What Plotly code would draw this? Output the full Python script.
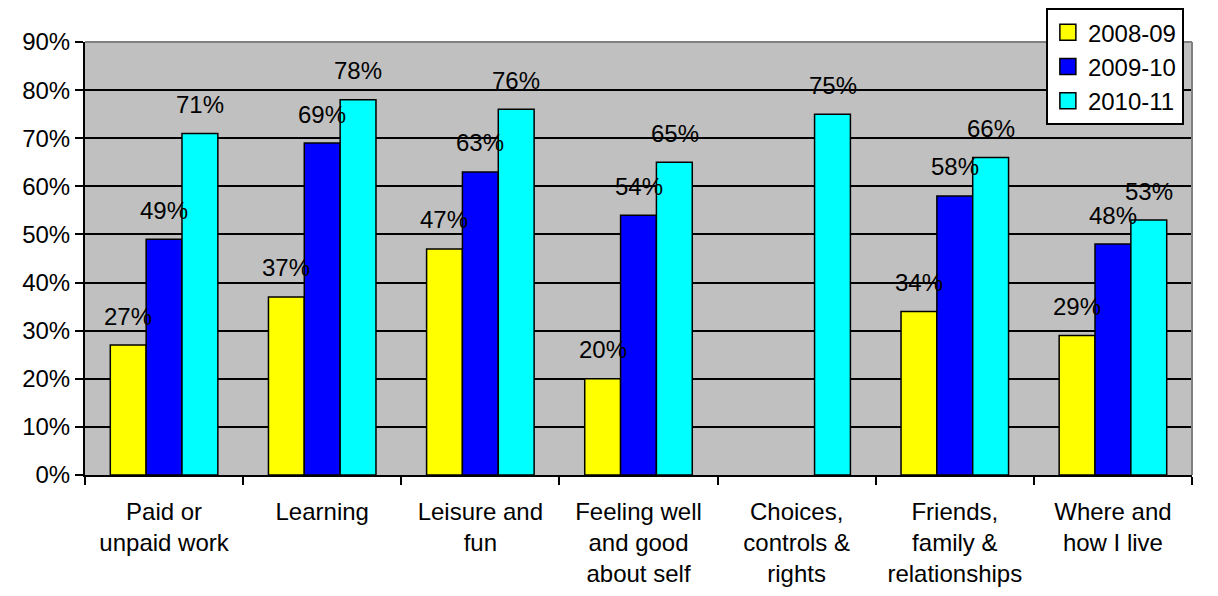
import plotly.graph_objects as go

categories = [
    "Paid or<br>unpaid work",
    "Learning",
    "Leisure and<br>fun",
    "Feeling well<br>and good<br>about self",
    "Choices,<br>controls &<br>rights",
    "Friends,<br>family &<br>relationships",
    "Where and<br>how I live",
]
years = ["2008-09", "2009-10", "2010-11"]
vals_0809 = [27, 37, 47, 20, None, 34, 29]
vals_0910 = [49, 69, 63, 54, None, 58, 48]
vals_1011 = [71, 78, 76, 65, 75, 66, 53]
colors = ["#FFFF00", "#0000FF", "#00FFFF"]

series = [vals_0809, vals_0910, vals_1011]
font = dict(family="Liberation Sans, Arial, sans-serif", size=24, color="black")

fig = go.Figure()
for name, vals, col in zip(years, series, colors):
    fig.add_trace(go.Bar(
        x=categories, y=vals, name=name, showlegend=False,
        marker=dict(color=col, line=dict(color="black", width=1.5)),
    ))
# legend entries with bigger square swatches
for name, col in zip(years, colors):
    fig.add_trace(go.Scatter(
        x=[None], y=[None], mode="markers", name=name,
        marker=dict(symbol="square", size=18, color=col,
                    line=dict(color="black", width=1.5)),
    ))

# value labels sitting above each bar
shifts = [-36, 0, 36]
for vals, dx in zip(series, shifts):
    for cat, v in zip(categories, vals):
        if v is None:
            continue
        fig.add_annotation(
            x=cat, y=v, text=f"{v}%", showarrow=False,
            xshift=dx, yshift=29, yanchor="middle", font=font,
        )

# gray top / right frame of plot area
fig.add_shape(type="line", xref="paper", yref="paper", x0=0, x1=1, y0=1, y1=1,
              line=dict(color="#808080", width=2))
fig.add_shape(type="line", xref="paper", yref="paper", x0=1, x1=1, y0=0, y1=1,
              line=dict(color="#808080", width=2))

# page body adds an 8px offset, so margins are trimmed by that amount
fig.update_layout(
    width=1218, height=596,
    margin=dict(l=77, r=34, t=34, b=129, autoexpand=False),
    paper_bgcolor="white", plot_bgcolor="#C0C0C0",
    barmode="group", bargap=0.32, bargroupgap=0,
    font=font,
    showlegend=True,
    legend=dict(
        x=0.868, y=1.078, xanchor="left", yanchor="top",
        bgcolor="white", bordercolor="black", borderwidth=2,
        font=font, itemwidth=30, tracegroupgap=0, entrywidth=135,
    ),
)
fig.update_xaxes(
    showline=True, linecolor="black", linewidth=2, automargin=False,
    ticks="outside", tickson="boundaries", ticklen=8, tickcolor="black", tickwidth=2,
    ticklabelstandoff=14, tickfont=font,
)
fig.update_yaxes(
    range=[0, 90], dtick=10, ticksuffix="%", automargin=False,
    showline=True, linecolor="black", linewidth=2,
    ticks="outside", ticklen=8, tickcolor="black", tickwidth=2,
    showgrid=True, gridcolor="black", gridwidth=2,
    zeroline=False, tickfont=font,
)

fig.write_html("out.html")
